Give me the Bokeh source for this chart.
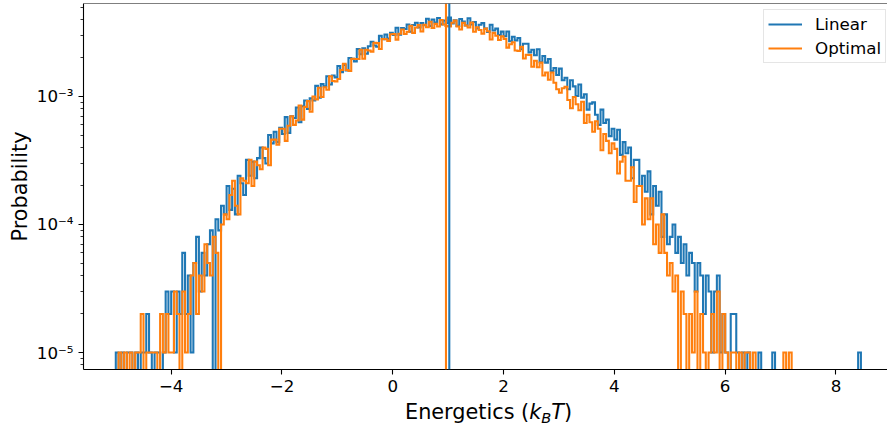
import numpy as np
from bokeh.plotting import figure
from bokeh.layouts import column
from bokeh.models import (Range1d, FixedTicker, CustomJSTickFormatter, Span,
                          Legend, LegendItem, Div)
from bokeh.embed import file_html
from bokeh.resources import INLINE

# ---------------- data (histogram counts) ----------------
N_SAMPLES = 100000          # probability = count / N_SAMPLES
BIN_START = -5.0
BIN_WIDTH = 0.05

linear_counts = (
    [1, 0, 1, 0, 1, 1, 0, 1, 0, 1, 1, 2, 1, 0, 1, 1, 0, 1, 3, 2] +                 # -5 .. -4
    [3, 1, 3, 2, 6, 2, 4, 1, 5, 8, 3, 6, 4, 7, 9, 0, 11, 9, 14, 12] +              # -4 .. -3
    [20, 13, 19, 12, 24, 21, 17, 32, 24, 31, 23, 33, 40, 33, 30, 50, 43, 53, 44, 57] +
    [51, 69, 52, 70, 68, 82, 63, 84, 93, 80, 97, 93, 121, 98, 125, 120, 144, 124, 146, 141] +
    [173, 155, 176, 160, 200, 197, 188, 235, 214, 238, 216, 247, 268, 250, 245, 298, 280, 305, 283, 315] +
    [303, 344, 304, 343, 337, 365, 320, 362, 377, 346, 375, 360, 405, 355, 399, 379, 410, 366, 392, 373] +
    [413, 372, 393, 356, 403, 385, 359, 408, 365, 382, 340, 364, 374, 339, 319, 363, 328, 339, 302, 321] +
    [296, 322, 270, 293, 274, 286, 234, 258, 258, 221, 232, 210, 234, 185, 207, 184, 196, 158, 167, 147] +
    [165, 134, 140, 114, 134, 120, 101, 124, 98, 104, 79, 88, 90, 72, 60, 79, 62, 66, 49, 56] +
    [46, 55, 35, 44, 36, 40, 23, 32, 32, 20, 24, 18, 26, 12, 20, 14, 18, 8, 12, 7] +
    [8, 10, 6, 8, 5, 7, 4, 6, 5, 3, 5, 4, 2, 4, 3, 1, 3, 4, 1, 2] +                 # 5 .. 6
    [1, 0, 2, 2, 1, 0, 1, 0, 1, 0, 0, 0, 1, 0, 0, 0, 0, 1, 0, 0] +                 # 6 .. 7
    [0] * 20 +                                                                      # 7 .. 8
    [0, 0, 0, 0, 0, 0, 0, 0, 1]                                                     # 8 .. 8.45
)

optimal_counts = (
    [0, 1, 0, 1, 0, 1, 0, 1, 1, 2, 0, 1, 1, 1, 1, 0, 2, 1, 2, 1] +
    [1, 3, 2, 0, 3, 1, 2, 4, 5, 2, 4, 3, 7, 5, 4, 8, 6, 0, 10, 12] +
    [11, 17, 22, 14, 12, 23, 22, 21, 32, 20, 31, 29, 27, 40, 39, 29, 46, 46, 42, 56] +
    [56, 45, 59, 70, 60, 65, 85, 66, 83, 92, 76, 100, 95, 117, 99, 118, 113, 144, 132, 131] +
    [137, 161, 180, 161, 158, 197, 196, 196, 232, 197, 232, 229, 224, 263, 261, 235, 281, 280, 272, 306] +
    [307, 278, 309, 334, 308, 320, 356, 314, 346, 361, 322, 363, 348, 384, 343, 369, 352, 396, 365, 355] +
    [352, 377, 392, 352, 334, 376, 359, 346, 378, 320, 348, 331, 310, 340, 323, 279, 314, 298, 276, 295] +
    [282, 241, 256, 265, 229, 227, 244, 198, 212, 211, 171, 190, 169, 184, 146, 154, 135, 154, 128, 114] +
    [107, 116, 119, 94, 81, 99, 87, 78, 91, 62, 72, 63, 53, 64, 56, 38, 51, 45, 36, 43] +
    [39, 25, 31, 34, 22, 22, 28, 15, 20, 20, 10, 16, 11, 16, 7, 10, 6, 12, 6, 4] +
    [5, 3, 4, 0, 3, 2, 0, 2, 1, 3, 0, 2, 1, 0, 1, 2, 1, 3, 0, 2] +
    [1, 0, 1, 1, 0, 1, 0, 1, 1, 0, 1, 0, 0, 0, 0, 0, 0, 0, 0, 0] +
    [0, 1, 0, 1] + [0] * 16 +
    [0] * 9
)

linear_mean = 1.02
optimal_mean = 0.96

series_names = ["Linear", "Optimal"]
series_colors = ["#1f77b4", "#ff7f0e"]

x_ticks = [-4, -2, 0, 2, 4, 6, 8]
y_ticks = [1e-5, 1e-4, 1e-3]
y_minor_ticks = [m * 10.0 ** e for e in (-6, -5, -4, -3) for m in range(2, 10)]

assert len(linear_counts) == len(optimal_counts) == 269

FONT = "DejaVu Sans"
LW = 2.08
X_START, X_END = -5.583, 8.93
Y_START, Y_END = 7.366e-6, 5.327e-3


def step_xy(counts):
    c = np.asarray(counts, dtype=float)
    edges = BIN_START + BIN_WIDTH * np.arange(len(c) + 1)
    xs = np.repeat(edges, 2)
    ys = np.concatenate([[0.0], np.repeat(c, 2), [0.0]]) / N_SAMPLES
    ys[ys <= 0] = 1e-12          # empty bins fall off the log axis
    return xs, ys


p = figure(width=887, height=400,
           x_range=Range1d(X_START, X_END),
           y_range=Range1d(Y_START, Y_END),
           y_axis_type="log",
           output_backend="svg", toolbar_location=None,
           min_border_left=83, min_border_right=0,
           min_border_top=3, min_border_bottom=31)
p.background_fill_color = "white"
p.border_fill_color = "white"
p.outline_line_color = None
p.xgrid.visible = False
p.ygrid.visible = False

renderers = []
for counts, color in zip([linear_counts, optimal_counts], series_colors):
    xs, ys = step_xy(counts)
    r = p.line(xs, ys, line_color=color, line_width=LW, line_join="miter")
    renderers.append(r)

for mean, color in zip([linear_mean, optimal_mean], series_colors):
    p.add_layout(Span(location=mean, dimension="height", line_color=color, line_width=LW))

# top spine
p.add_layout(Span(location=Y_END, dimension="width", line_color="black", line_width=1.1))

# axes
for ax in (p.xaxis[0], p.yaxis[0]):
    ax.axis_line_color = "black"
    ax.axis_line_width = 1.1
    ax.major_tick_line_color = "black"
    ax.major_tick_line_width = 1.1
    ax.major_tick_out = 5
    ax.major_tick_in = 0
    ax.major_label_standoff = 5
    ax.major_label_text_font = FONT
    ax.major_label_text_font_size = "16.7px"
    ax.major_label_text_color = "black"

p.xaxis.ticker = FixedTicker(ticks=x_ticks, minor_ticks=[])
p.xaxis.minor_tick_line_color = None
p.xaxis.formatter = CustomJSTickFormatter(
    code="return tick < 0 ? '\\u2212' + Math.abs(tick) : String(tick);")

p.yaxis.ticker = FixedTicker(ticks=y_ticks, minor_ticks=y_minor_ticks)
p.yaxis.minor_tick_line_color = "black"
p.yaxis.minor_tick_line_width = 0.8
p.yaxis.minor_tick_out = 3
p.yaxis.minor_tick_in = 0
p.yaxis.formatter = CustomJSTickFormatter(code="""
const sup = {'-': '\\u207b', '0': '\\u2070', '1': '\\u00b9', '2': '\\u00b2', '3': '\\u00b3',
             '4': '\\u2074', '5': '\\u2075', '6': '\\u2076', '7': '\\u2077', '8': '\\u2078', '9': '\\u2079'};
const e = Math.round(Math.log10(tick));
return '10' + String(e).split('').map(c => sup[c]).join('');
""")
p.yaxis.axis_label = "Probability"
p.yaxis.axis_label_text_font = FONT
p.yaxis.axis_label_text_font_size = "20.8px"
p.yaxis.axis_label_text_font_style = "normal"
p.yaxis.axis_label_text_color = "black"
p.yaxis.axis_label_standoff = 2

legend = Legend(items=[LegendItem(label=n, renderers=[r]) for n, r in zip(series_names, renderers)],
                location=(680, 306))
legend.label_text_font = FONT
legend.label_text_font_size = "16.7px"
legend.label_text_color = "black"
legend.border_line_color = "#cccccc"
legend.border_line_width = 1
legend.background_fill_color = "white"
legend.background_fill_alpha = 0.8
legend.glyph_width = 34
legend.glyph_height = 20
legend.label_standoff = 13
legend.padding = 4
legend.spacing = 4
legend.margin = 0
p.add_layout(legend)

# x axis label with italic k, italic subscript B and italic T
x_label_html = (
    "<div style=\"font-family:'DejaVu Sans';font-size:20.8px;line-height:20.8px;"
    "color:black;white-space:nowrap;padding-left:405px;padding-top:2px;margin:0;\">"
    "Energetics (<i>k</i><i style=\"font-size:14.6px;vertical-align:-4px;\">B</i>"
    "<i>T</i>)</div>"
)
x_label = Div(text=x_label_html, width=887, height=32, margin=(0, 0, 0, 0))

layout = column(p, x_label, spacing=0)

open("out.html", "w").write(file_html(layout, INLINE))
